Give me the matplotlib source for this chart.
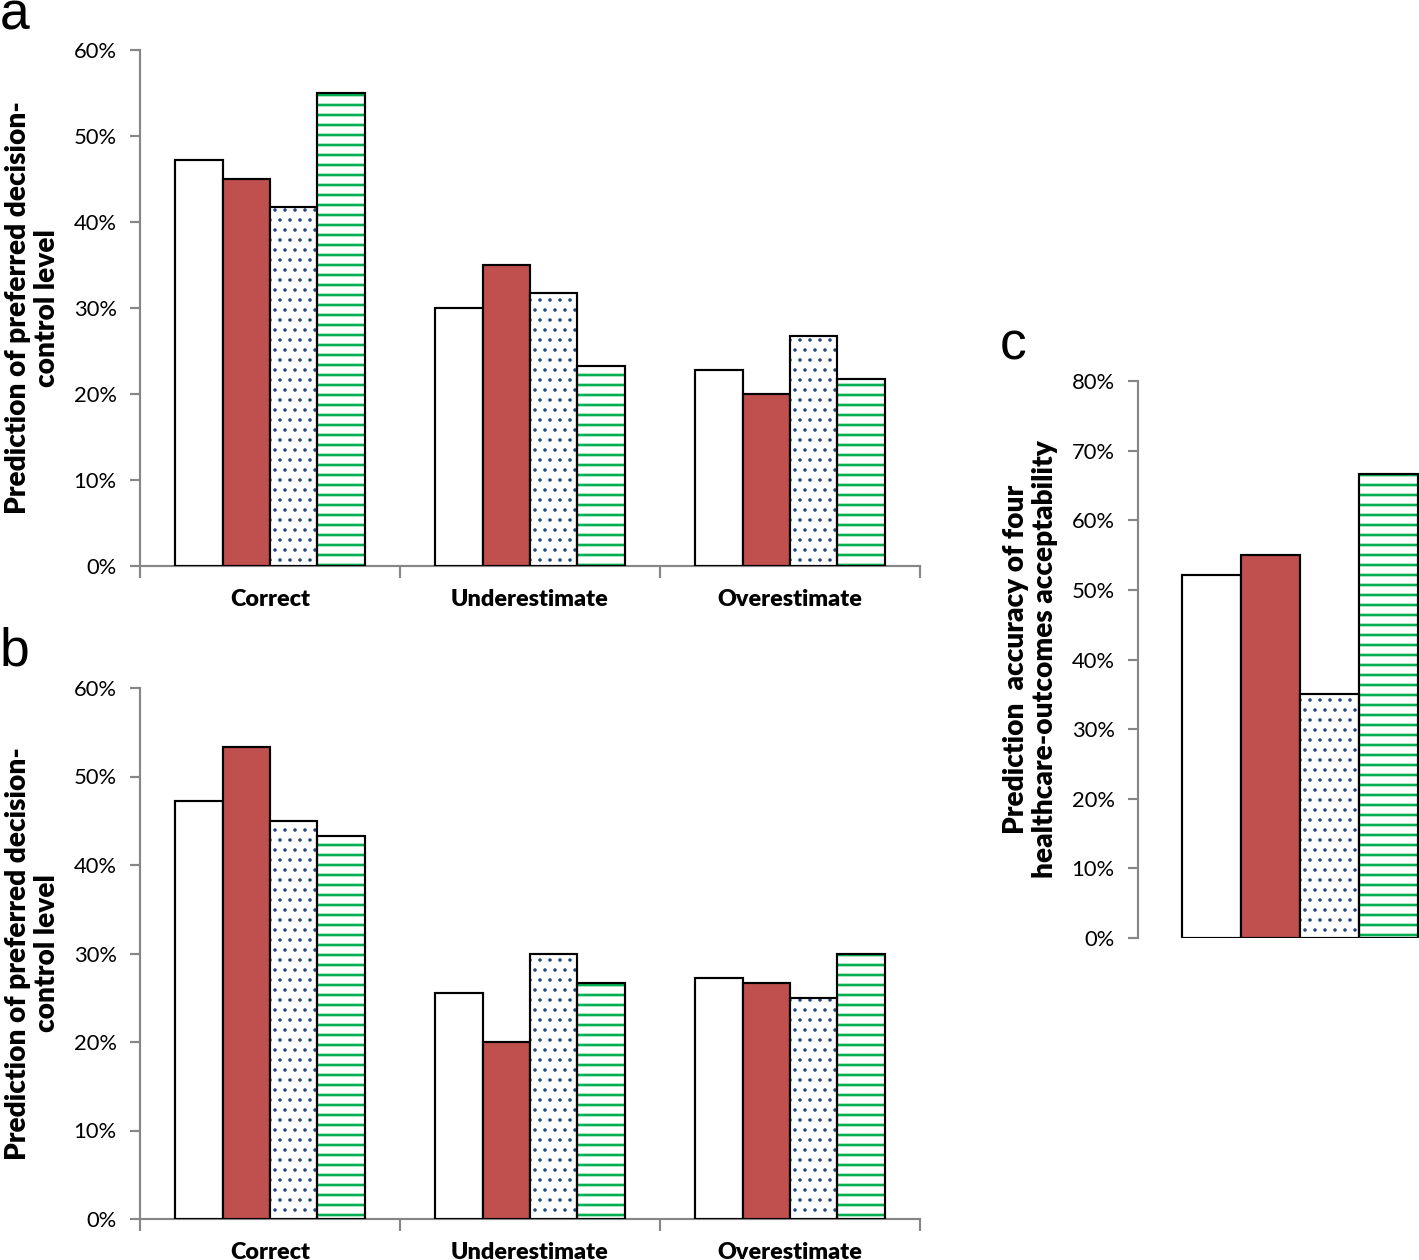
"""
Decision-control prediction bars, panels a / b / c.
"""

import matplotlib
matplotlib.use("Agg")
import numpy as np
import matplotlib.pyplot as plt

# ── Data ───────────────────────────────────────────────────────────────────────

CATEGORIES = ["Correct", "Underestimate", "Overestimate"]

# panel a  (one list per bar style, values in %)
A_WHITE  = [47.2, 30.0, 22.8]
A_RED    = [45.0, 35.0, 20.0]
A_DOTTED = [41.7, 31.7, 26.7]
A_GREEN  = [55.0, 23.3, 21.7]

# panel b
B_WHITE  = [47.2, 25.5, 27.2]
B_RED    = [53.3, 20.0, 26.7]
B_DOTTED = [45.0, 30.0, 25.0]
B_GREEN  = [43.3, 26.7, 30.0]

# panel c (single group)
C_VALUES = [52.1, 55.0, 35.0, 66.7]

AB_TICKS = [0, 10, 20, 30, 40, 50, 60]
C_TICKS  = [0, 10, 20, 30, 40, 50, 60, 70, 80]

# ── Style ──────────────────────────────────────────────────────────────────────

DPI        = 120
W_PX, H_PX = 1419, 1260
BAR_W      = 0.182
RED        = "#C0504D"
NAVY       = "#24457F"
GREEN      = "#00B050"
AXIS_GREY  = "#868686"
FONT       = "Lato"
LABEL_W    = "heavy"

plt.rcParams["hatch.linewidth"] = 1.6


def draw_bar(ax, x, h, style):
    """One bar: fill / hatch first, black outline on top."""
    if style == "white":
        ax.bar(x, h, BAR_W, color="white", edgecolor="black", linewidth=1.3, zorder=3)
    elif style == "red":
        ax.bar(x, h, BAR_W, color=RED, edgecolor="black", linewidth=1.3, zorder=3)
    else:
        dotted = style == "dotted"
        bars = ax.bar(x, h, BAR_W, color="white", edgecolor=NAVY if dotted else GREEN,
                      hatch=".." if dotted else "--", linewidth=0, zorder=3)
        for p in bars:
            if hasattr(p, "set_hatch_linewidth"):
                p.set_hatch_linewidth(0.9 if dotted else 1.6)
        ax.bar(x, h, BAR_W, fill=False, edgecolor="black", linewidth=1.3, zorder=4)


def style_axis(ax, ticks, top):
    ax.set_ylim(0, top)
    ax.set_yticks(ticks)
    ax.set_yticklabels([f"{t}%" for t in ticks], fontsize=13.2, family=FONT)
    ax.tick_params(axis="y", length=6, width=1.3, color=AXIS_GREY, pad=8)
    for side in ("top", "right"):
        ax.spines[side].set_visible(False)
    ax.spines["left"].set_color(AXIS_GREY)
    ax.spines["left"].set_linewidth(1.3)
    ax.spines["bottom"].set_color(AXIS_GREY)
    ax.spines["bottom"].set_linewidth(1.3)


def grouped_panel(fig, rect, series, letter, letter_y):
    ax = fig.add_axes(rect)
    styles = ["white", "red", "dotted", "green"]
    x = np.arange(len(CATEGORIES))
    for i, (vals, st) in enumerate(zip(series, styles)):
        for xi, v in zip(x, vals):
            draw_bar(ax, xi + (i - 1.5) * BAR_W, v, st)
    ax.set_xlim(-0.5, len(CATEGORIES) - 0.5)
    style_axis(ax, AB_TICKS, 60)

    # boundary ticks (major) + category labels (minor)
    ax.set_xticks(np.arange(-0.5, len(CATEGORIES)))
    ax.set_xticklabels([])
    ax.tick_params(axis="x", which="major", length=7, width=1.3, color=AXIS_GREY)
    ax.set_xticks(x, minor=True)
    ax.set_xticklabels(CATEGORIES, minor=True, fontsize=14, family=FONT, fontweight=LABEL_W)
    ax.tick_params(axis="x", which="minor", length=0, pad=14)

    ax.set_ylabel("Prediction of preferred decision-\ncontrol level",
                  fontsize=16.8, family=FONT, fontweight=LABEL_W, labelpad=8,
                  linespacing=1.15)
    fig.text(0.0, letter_y, letter, fontsize=32, family="Liberation Sans",
             ha="left", va="baseline")
    return ax


# ── Main ───────────────────────────────────────────────────────────────────────

def main():
    fig = plt.figure(figsize=(W_PX / DPI, H_PX / DPI), dpi=DPI)

    grouped_panel(fig, [140 / W_PX, 1 - 566 / H_PX, 780 / W_PX, 516 / H_PX],
                  [A_WHITE, A_RED, A_DOTTED, A_GREEN], "a", 1 - 29 / H_PX)
    grouped_panel(fig, [140 / W_PX, 1 - 1219 / H_PX, 780 / W_PX, 531 / H_PX],
                  [B_WHITE, B_RED, B_DOTTED, B_GREEN], "b", 1 - 666 / H_PX)

    # panel c — one group, axis runs past the right edge of the figure
    axc = fig.add_axes([1138 / W_PX, 1 - 938 / H_PX, 324 / W_PX, 557 / H_PX])
    for i, (v, st) in enumerate(zip(C_VALUES, ["white", "red", "dotted", "green"])):
        draw_bar(axc, (i - 1.5) * BAR_W, v, st)
    axc.set_xlim(-0.5, 0.5)
    style_axis(axc, C_TICKS, 80)
    axc.spines["bottom"].set_visible(False)
    axc.set_xticks([])
    axc.set_ylabel("Prediction  accuracy of four\nhealthcare-outcomes acceptability",
                   fontsize=16.8, family=FONT, fontweight=LABEL_W, labelpad=8,
                   linespacing=1.15)
    fig.text(1000 / W_PX, 1 - 360 / H_PX, "c", fontsize=32, family="Liberation Sans",
             ha="left", va="baseline")

    fig.savefig("out.png", dpi=DPI)


if __name__ == "__main__":
    main()
